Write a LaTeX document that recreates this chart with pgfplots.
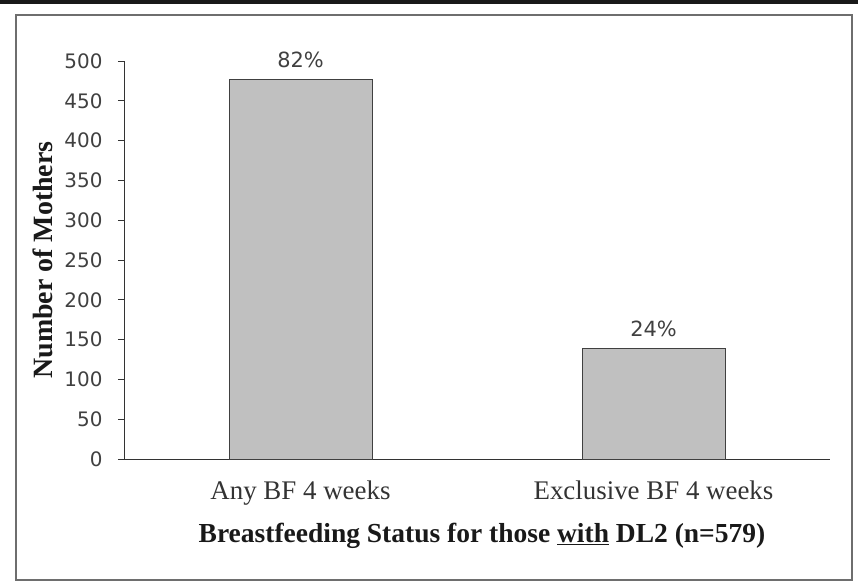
\documentclass[border=0pt]{standalone}
\usepackage{pgfplots}
\pgfplotsset{compat=1.18}
\usepackage{fontspec}
\setmainfont{Liberation Serif}
\setsansfont{DejaVu Sans}

\definecolor{barfill}{RGB}{192,192,192}
\definecolor{framegray}{RGB}{110,110,110}

\begin{document}
\begin{tikzpicture}[x=1bp,y=1bp]
% page extent and decoration
\path (-124,-124) rectangle (734,459);
\fill[black!90] (-124,455) rectangle (734,459);
\draw[framegray, line width=1.6bp] (-108,-121) rectangle (728,444);
\begin{axis}[
   at={(0,0)}, anchor=south west,
   scale only axis,
   width=706bp, height=398bp,
   xmin=-0.5, xmax=1.5,
   ymin=0, ymax=500,
   axis x line*=bottom,
   axis y line*=left,
   axis line style={black!80, line width=0.9pt, -},
   ytick={0,50,...,500},
   xtick={0,1},
   xticklabels={Any BF 4 weeks, Exclusive BF 4 weeks},
   x tick style={draw=none},
   extra x ticks={-0.5,0.5,1.5},
   extra x tick labels={},
   extra x tick style={tick style={draw=black!80, line width=0.9pt}, major tick length=6bp},
   tick align=outside,
   major tick length=6bp,
   y tick style={draw=black!80, line width=0.9pt},
   yticklabel style={font=\sffamily\fontsize{20}{24}\selectfont, text=black!75, xshift=-12bp},
   xticklabel style={font=\rmfamily\fontsize{27}{32}\selectfont, text=black!80, yshift=-12bp},
   /pgf/number format/assume math mode=true,
   ylabel={\bfseries Number of Mothers},
   ylabel style={font=\rmfamily\fontsize{28}{32}\selectfont, text=black!90, at={(axis description cs:0,0.5)}, anchor=center, yshift=81bp},
   xlabel={\bfseries Breastfeeding Status for those \underline{with} DL2 (n=579)},
   xlabel style={font=\rmfamily\fontsize{27.6}{32}\selectfont, text=black!90, yshift=1bp, xshift=5bp},
   clip=false,
]
\addplot[ybar, bar width=143bp, fill=barfill, draw=black!75, line width=0.9pt,
   point meta=explicit symbolic,
   nodes near coords,
   every node near coord/.append style={font=\sffamily\fontsize{21}{24}\selectfont, text=black!75, yshift=8bp}]
   coordinates {(0,477) [82\%] (1,139) [24\%]};
\end{axis}
\end{tikzpicture}
\end{document}
